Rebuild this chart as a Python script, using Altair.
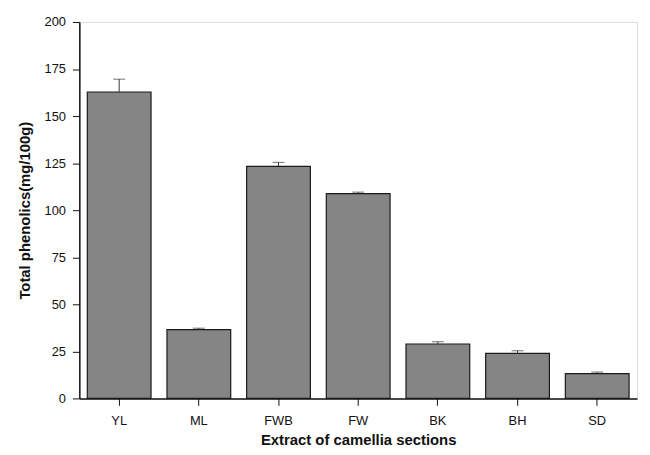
import altair as alt
import pandas as pd

categories = ["YL", "ML", "FWB", "FW", "BK", "BH", "SD"]
values = [162.8, 36.5, 123.3, 108.8, 28.9, 23.9, 13.2]
errors = [6.8, 0.8, 2.1, 0.8, 1.2, 1.4, 0.8]

df = pd.DataFrame({"cat": categories, "val": values, "err": errors})
df["top"] = df["val"] + df["err"]

font = "Liberation Sans"
x = alt.X("cat:N", sort=categories, title="Extract of camellia sections",
          scale=alt.Scale(paddingInner=0.2, paddingOuter=0.1),
          axis=alt.Axis(labelAngle=0, labelFontSize=13, labelFont=font, labelColor="#111",
                        titleFontSize=15, titleFont=font, titleFontWeight="bold", titleColor="#111",
                        tickSize=7, tickColor="#111", domainColor="#111", domainWidth=1.5,
                        labelPadding=9, titlePadding=6))
y_axis = alt.Axis(values=list(range(0, 201, 25)), labelFontSize=13, labelFont=font, labelColor="#111",
                  titleFontSize=15, titleFont=font, titleFontWeight="bold", titleColor="#111",
                  tickSize=7, tickColor="#111", domainColor="#111", domainWidth=1.5, grid=False,
                  labelPadding=7, titlePadding=12)

base = alt.Chart(df)
bars = base.mark_bar(color="#858585", stroke="#1a1a1a", strokeWidth=1.2).encode(
    x=x,
    y=alt.Y("val:Q", title="Total phenolics(mg/100g)", scale=alt.Scale(domain=[0, 200]), axis=y_axis),
)
stem = base.mark_rule(color="#333", strokeWidth=1).encode(
    x=alt.X("cat:N", sort=categories), y="val:Q", y2="top:Q")
cap = base.mark_tick(color="#333", thickness=1, size=12, orient="horizontal").encode(
    x=alt.X("cat:N", sort=categories), y="top:Q")

chart = alt.layer(bars, stem, cap).properties(
    width=563, height=380,
    autosize=alt.AutoSizeParams(type="none"),
    padding={"left": 72, "top": 12, "right": 5, "bottom": 50},
).configure_view(stroke=None).configure(background="white")

chart.save("out.html", embed_options={"renderer": "svg", "actions": False})
